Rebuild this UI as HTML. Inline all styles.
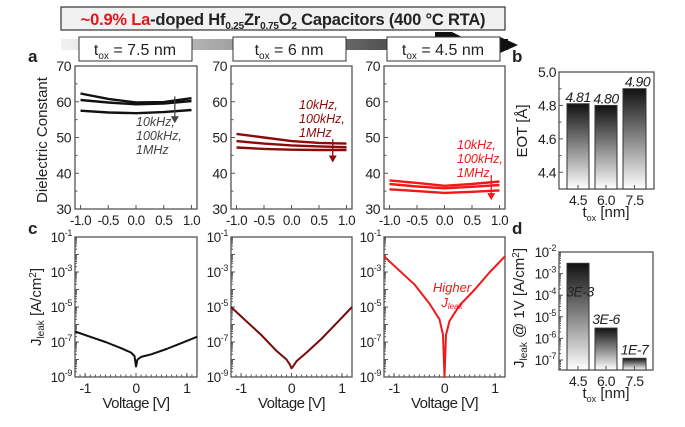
<!DOCTYPE html>
<html><head><meta charset="utf-8"><style>
html,body{margin:0;padding:0;background:#fff;}
svg{display:block;font-family:"Liberation Sans",Arial,sans-serif;}
</style></head><body>
<svg id="fig" width="685" height="427" viewBox="0 0 685 427" xmlns="http://www.w3.org/2000/svg">
<defs>
<linearGradient id="band" x1="0" x2="1" y1="0" y2="0"><stop offset="0" stop-color="#f2f2f2"/><stop offset="0.5" stop-color="#888"/><stop offset="1" stop-color="#111"/></linearGradient>
<linearGradient id="barg" x1="0" x2="0" y1="0" y2="1"><stop offset="0" stop-color="#111"/><stop offset="1" stop-color="#fff"/></linearGradient>
</defs>
<rect x="61" y="39" width="447" height="11" fill="url(#band)"/>
<polygon points="500,37 518,45 500,53" fill="#111"/>
<polygon points="435,32 452,32 462,37 435,37" fill="#111"/>
<g>
<rect x="61" y="7" width="444" height="23" fill="#f1f1f1" stroke="#333" stroke-width="1.2"/>
<text x="283" y="25" text-anchor="middle" font-size="16.5" font-weight="bold" fill="#222" letter-spacing="-0.2"><tspan fill="#e8141b">~0.9% La</tspan>-doped Hf<tspan font-size="10" dy="4">0.25</tspan><tspan dy="-4">Zr</tspan><tspan font-size="10" dy="4">0.75</tspan><tspan dy="-4">O</tspan><tspan font-size="10" dy="4">2</tspan><tspan dy="-4">  Capacitors (400 °C RTA)</tspan></text>
</g>
<g><rect x="79" y="37" width="113" height="24" fill="#fff" stroke="#333"/><text x="135" y="55" text-anchor="middle" font-size="16" fill="#222">t<tspan font-size="10" dy="4">ox</tspan><tspan dy="-4"> = 7.5 nm</tspan></text></g>
<g><rect x="233" y="37" width="113" height="24" fill="#fff" stroke="#333"/><text x="289" y="55" text-anchor="middle" font-size="16" fill="#222">t<tspan font-size="10" dy="4">ox</tspan><tspan dy="-4"> = 6 nm</tspan></text></g>
<g><rect x="387" y="37" width="113" height="24" fill="#fff" stroke="#333"/><text x="443" y="55" text-anchor="middle" font-size="16" fill="#222">t<tspan font-size="10" dy="4">ox</tspan><tspan dy="-4"> = 4.5 nm</tspan></text></g>
<text x="28" y="62" font-size="17" font-weight="bold" fill="#222">a</text>
<text x="512" y="62" font-size="17" font-weight="bold" fill="#222">b</text>
<text x="28" y="234" font-size="17" font-weight="bold" fill="#222">c</text>
<text x="512" y="234" font-size="17" font-weight="bold" fill="#222">d</text>
<text transform="translate(47,140) rotate(-90)" text-anchor="middle" font-size="15" fill="#222">Dielectric Constant</text>
<text transform="translate(41,307) rotate(-90)" text-anchor="middle" font-size="15" fill="#222">J<tspan font-size="10" dy="3">leak</tspan><tspan dy="-3"> [A/cm</tspan><tspan font-size="10" dy="-5">2</tspan><tspan dy="5">]</tspan></text>
<text transform="translate(527,131) rotate(-90)" text-anchor="middle" font-size="15" fill="#222">EOT [Å]</text>
<text transform="translate(524,308) rotate(-90)" text-anchor="middle" font-size="15" fill="#222">J<tspan font-size="10" dy="3">leak</tspan><tspan dy="-3"> @ 1V [A/cm</tspan><tspan font-size="10" dy="-5">2</tspan><tspan dy="5">]</tspan></text>
</svg>
<script>
// Panel a: dielectric constant vs voltage (3 freqs per thickness)
const kVolt = [-1.0, -0.5, 0.0, 0.5, 1.0];
const k75_10k = [62.3, 60.8, 59.8, 59.9, 61.0];
const k75_100k = [60.5, 59.8, 59.3, 59.5, 60.2];
const k75_1M = [57.5, 57.0, 56.8, 57.1, 57.7];
const k6_10k = [51.0, 50.0, 49.0, 48.5, 48.3];
const k6_100k = [49.0, 48.3, 47.8, 47.5, 47.3];
const k6_1M = [47.2, 46.8, 46.6, 46.5, 46.5];
const k45_10k = [38.0, 37.3, 36.5, 37.0, 37.7];
const k45_100k = [37.0, 36.3, 35.8, 36.2, 36.7];
const k45_1M = [35.5, 35.0, 34.5, 34.8, 35.2];
const kTicks = [30, 40, 50, 60, 70];
const vTicksA = [-1.0, -0.5, 0.0, 0.5, 1.0];
const vTickLabelsA = ["-1.0", "-0.5", "0.0", "0.5", "1.0"];
// Panel c: leakage current (log10 J) vs voltage
const jVolt = [-1.2, -0.9, -0.6, -0.3, -0.1, -0.03, 0.0, 0.03, 0.1, 0.3, 0.6, 0.9, 1.2];
const jLog75 = [-6.4, -6.7, -7.0, -7.35, -7.6, -7.8, -8.4, -8.0, -7.85, -7.7, -7.4, -7.05, -6.7];
const jLog6 = [-5.0, -5.8, -6.6, -7.5, -8.0, -8.3, -8.5, -8.4, -8.1, -7.6, -6.8, -5.9, -5.0];
const jLog45 = [-2.1, -2.9, -3.7, -4.8, -5.7, -6.6, -9.0, -6.6, -5.8, -4.9, -4.0, -3.0, -2.1];
const jTickExp = [-1, -3, -5, -7, -9];
const vTicksC = [-1, 0, 1];
// Panel b: EOT
const toxCats = ["4.5", "6.0", "7.5"];
const eotVals = [4.81, 4.80, 4.90];
const eotLabels = ["4.81", "4.80", "4.90"];
const eotTicks = [4.4, 4.6, 4.8, 5.0];
// Panel d: J at 1V
const jAt1V = [3e-3, 3e-6, 1.2e-7];
const jAt1VLabels = ["3E-3", "3E-6", "1E-7"];
const jdTickExp = [-2, -3, -4, -5, -6, -7];

const NS = "http://www.w3.org/2000/svg";
const svg = document.getElementById("fig");
function mk(tag, attrs, parent) {
  const e = document.createElementNS(NS, tag);
  for (const k in attrs) e.setAttribute(k, attrs[k]);
  (parent || svg).appendChild(e);
  return e;
}
function frame(x0, x1, y0, y1, name) {
  const g = mk("g", {});
  
  
  const r = mk("rect", {x: x0, y: y0, width: x1 - x0, height: y1 - y0, fill: "#fff", stroke: "#555", "stroke-width": 1.3}, g);
  
  
  return g;
}
function label(g, x, y, txt, anchor, size, name) {
  const t = mk("text", {x: x, y: y, "text-anchor": anchor, "font-size": size, fill: "#222", "letter-spacing": "-0.5"}, g);
  t.textContent = txt;
  
  
  return t;
}
function expLabel(g, x, y, e, name) {
  const t = mk("text", {x: x, y: y, "text-anchor": "end", "font-size": 13.5, fill: "#222", "letter-spacing": "-0.4"}, g);
  
  
  const a = mk("tspan", {}, t); a.textContent = "10";
  const b = mk("tspan", {"font-size": 9, dy: -6}, t); b.textContent = String(e);
  return t;
}
function polyline(g, xs, ys, sx, sy, color, w, name) {
  const pts = xs.map((v, i) => sx(v).toFixed(1) + "," + sy(ys[i]).toFixed(1)).join(" ");
  const p = mk("polyline", {points: pts, fill: "none", stroke: color, "stroke-width": w, "stroke-linejoin": "round"}, g);
  
  
  return p;
}

// ---- Panel a ----
const colsX = [[75, 197], [231, 352], [384, 505]];
const aY0 = 66, aY1 = 209;
const aSets = [
  {d: [k75_10k, k75_100k, k75_1M], c: "#111", n: "7-5"},
  {d: [k6_10k, k6_100k, k6_1M], c: "#8b0a0a", n: "6"},
  {d: [k45_10k, k45_100k, k45_1M], c: "#f01818", n: "4-5"}
];
const annA = [
  {tx: 136, ty: 126, ax: 0.7, a0: 61.5, a1: 54, c: "#444"},
  {tx: 299, ty: 109, ax: 0.75, a0: 49.5, a1: 43, c: "#8b0a0a"},
  {tx: 457, ty: 149, ax: 0.85, a0: 39.5, a1: 32.5, c: "#f01818"}
];
aSets.forEach((set, pi) => {
  const [x0, x1] = colsX[pi];
  const sx = v => x0 + (v + 1.1) / 2.2 * (x1 - x0);
  const sy = v => aY1 - (v - 30) / 40 * (aY1 - aY0);
  const g = frame(x0, x1, aY0, aY1, "dielectric-plot-" + set.n);
  kTicks.forEach(t => {
    mk("line", {x1: x0, x2: x0 + 4, y1: sy(t), y2: sy(t), stroke: "#555"}, g);
    label(g, x0 - 4, sy(t) + 5, String(t), "end", 14, "y-tick-label");
  });
  for (let t = 35; t < 70; t += 10) mk("line", {x1: x0, x2: x0 + 2.5, y1: sy(t), y2: sy(t), stroke: "#555"}, g);
  vTicksA.forEach((t, i) => {
    mk("line", {x1: sx(t), x2: sx(t), y1: aY1, y2: aY1 - 4, stroke: "#555"}, g);
    label(g, sx(t), aY1 + 16, vTickLabelsA[i], "middle", 13.5, "x-tick-label");
  });
  set.d.forEach((ys, k) => {
    polyline(g, kVolt, ys, sx, sy, set.c, 2.4, "k-curve-" + ["10khz", "100khz", "1mhz"][k]);
  });
  const an = annA[pi];
  const ag = mk("g", {}, g);
  
  
  ["10kHz,", "100kHz,", "1MHz"].forEach((s, i) => {
    const t = mk("text", {x: an.tx, y: an.ty + i * 14, "font-size": 12.5, "font-style": "italic", fill: an.c}, ag);
    t.textContent = s;
  });
  mk("line", {x1: sx(an.ax), x2: sx(an.ax), y1: sy(an.a0), y2: sy(an.a1) - 5, stroke: an.c, "stroke-width": 1.3}, ag);
  mk("polygon", {points: `${sx(an.ax) - 4},${sy(an.a1) - 7} ${sx(an.ax) + 4},${sy(an.a1) - 7} ${sx(an.ax)},${sy(an.a1)}`, fill: an.c}, ag);
});

// ---- Panel c ----
const cY0 = 237, cY1 = 377;
const cSets = [{d: jLog75, c: "#111", n: "7-5"}, {d: jLog6, c: "#7a0a0a", n: "6"}, {d: jLog45, c: "#f01818", n: "4-5"}];
cSets.forEach((set, pi) => {
  const [x0, x1] = colsX[pi];
  const sx = v => x0 + (v + 1.2) / 2.4 * (x1 - x0);
  const sy = v => cY0 + (-1 - v) / 8 * (cY1 - cY0);
  const g = frame(x0, x1, cY0, cY1, "leakage-plot-" + set.n);
  for (let e = -9; e <= -1; e++) {
    for (let m = 1; m < 10; m++) {
      const v = e + Math.log10(m);
      if (v > -1) break;
      mk("line", {x1: x0, x2: x0 + (m === 1 ? 4 : 2), y1: sy(v), y2: sy(v), stroke: "#555"}, g);
    }
  }
  jTickExp.forEach(e => expLabel(g, x0 - 3, sy(e) + 5, e, "y-tick-label"));
  for (let t = -1.2; t <= 1.21; t += 0.1) mk("line", {x1: sx(t), x2: sx(t), y1: cY1, y2: cY1 - 2.5, stroke: "#555"}, g);
  vTicksC.forEach(t => {
    mk("line", {x1: sx(t), x2: sx(t), y1: cY1, y2: cY1 - 4, stroke: "#555"}, g);
    label(g, sx(t), cY1 + 16, String(t), "middle", 14, "x-tick-label");
  });
  label(g, (x0 + x1) / 2, cY1 + 31, "Voltage [V]", "middle", 15, "x-axis-title");
  polyline(g, jVolt, set.d, sx, sy, set.c, 2, "leakage-curve");
});
{
  const t = mk("text", {x: 452, y: 292, "text-anchor": "middle", "font-size": 13, "font-style": "italic", fill: "#f01818"});
  t.textContent = "Higher";
  
  
  const t2 = mk("text", {x: 452, y: 307, "text-anchor": "middle", "font-size": 13, "font-style": "italic", fill: "#f01818"});
  t2.innerHTML = 'J<tspan font-size="8" dy="2">leak</tspan>';
  
  
}

// ---- Panel b ----
const barX = [[567, 589], [595, 617], [623, 646]];
{
  const x0 = 559, x1 = 654, y0 = 72, y1 = 189;
  const sy = v => y1 - (v - 4.3) / 0.7 * (y1 - y0);
  const g = frame(x0, x1, y0, y1, "eot-bar-chart");
  eotTicks.forEach(t => {
    mk("line", {x1: x0, x2: x0 + 4, y1: sy(t), y2: sy(t), stroke: "#555"}, g);
    label(g, x0 - 3, sy(t) + 5, t.toFixed(1), "end", 14, "y-tick-label");
  });
  for (let t = 4.5; t < 5; t += 0.2) mk("line", {x1: x0, x2: x0 + 2.5, y1: sy(t), y2: sy(t), stroke: "#555"}, g);
  eotVals.forEach((v, i) => {
    const [bx0, bx1] = barX[i];
    const r = mk("rect", {x: bx0, y: sy(v), width: bx1 - bx0, height: y1 - sy(v), fill: "url(#barg)", stroke: "#333", "stroke-width": 1}, g);
    
    
    const t = label(g, (bx0 + bx1) / 2 + (i === 2 ? 3 : 0), sy(v) - 2, eotLabels[i], "middle", 14, "eot-value-label");
    t.setAttribute("font-style", "italic");
    mk("line", {x1: (bx0 + bx1) / 2, x2: (bx0 + bx1) / 2, y1: y1, y2: y1 - 4, stroke: "#555"}, g);
    label(g, (bx0 + bx1) / 2, y1 + 16, toxCats[i], "middle", 14, "x-tick-label");
  });
  const xt = mk("text", {x: 606, y: 217, "text-anchor": "middle", "font-size": 15, fill: "#222"}, g);
  xt.innerHTML = 't<tspan font-size="9" dy="4">ox</tspan><tspan dy="-4"> [nm]</tspan>';
  
  
}

// ---- Panel d ----
{
  const x0 = 559, x1 = 653, y0 = 252, y1 = 370;
  const sy = v => y0 + (-2 - Math.log10(v)) * 21.6;
  const sye = e => y0 + (-2 - e) * 21.6;
  const g = frame(x0, x1, y0, y1, "jleak-bar-chart");
  for (let e = -8; e <= -2; e++) for (let m = 1; m < 10; m++) {
    const v = e + Math.log10(m);
    if (v > -2 || sye(v) > y1) continue;
    mk("line", {x1: x0, x2: x0 + (m === 1 ? 4 : 2), y1: sye(v), y2: sye(v), stroke: "#555"}, g);
  }
  jdTickExp.forEach(e => expLabel(g, x0 - 3, sye(e) + 5, e, "y-tick-label"));
  jAt1V.forEach((v, i) => {
    const [bx0, bx1] = barX[i];
    const r = mk("rect", {x: bx0, y: sy(v), width: bx1 - bx0, height: y1 - sy(v), fill: "url(#barg)", stroke: "#333", "stroke-width": 1}, g);
    
    
    const ly = i === 0 ? sy(v) + 33 : sy(v) - 4;
    const t = label(g, (bx0 + bx1) / 2 + (i === 0 ? 2 : 0), ly, jAt1VLabels[i], "middle", 14, "jleak-value-label");
    t.setAttribute("font-style", "italic");
    mk("line", {x1: (bx0 + bx1) / 2, x2: (bx0 + bx1) / 2, y1: y1, y2: y1 - 4, stroke: "#555"}, g);
    label(g, (bx0 + bx1) / 2, y1 + 16, toxCats[i], "middle", 14, "x-tick-label");
  });
  const xt = mk("text", {x: 606, y: 398, "text-anchor": "middle", "font-size": 15, fill: "#222"}, g);
  xt.innerHTML = 't<tspan font-size="9" dy="4">ox</tspan><tspan dy="-4"> [nm]</tspan>';
  
  
}
</script>
</body></html>
